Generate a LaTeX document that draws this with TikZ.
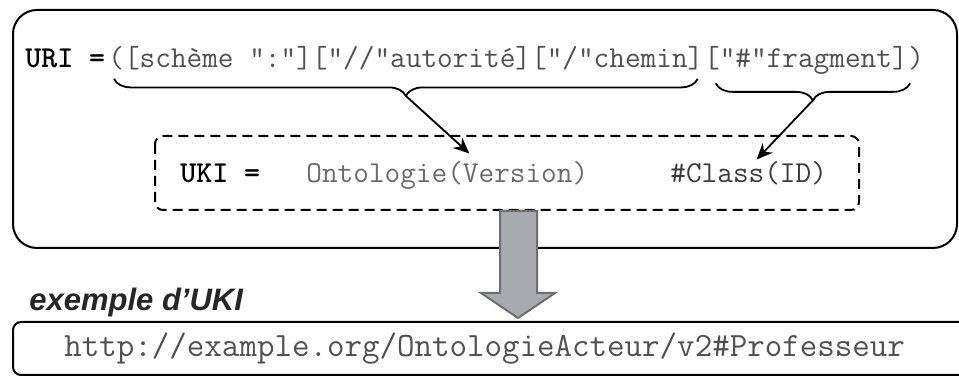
\documentclass[tikz,border=0pt]{standalone}
\usepackage{fontspec}
\setsansfont{Liberation Sans}
\usetikzlibrary{arrows.meta,calc,decorations.pathreplacing}
\definecolor{uri-gray}{HTML}{505050}
\definecolor{onto-gray}{HTML}{6A6A6A}
\definecolor{class-gray}{HTML}{3C3C3C}
\definecolor{block-gray}{HTML}{A7ABAF}
\definecolor{block-edge}{HTML}{6E6E6E}

\begin{document}
\begin{tikzpicture}[x=0.5pt, y=-0.5pt,
    code/.style={inner sep=0pt, anchor=base west, text=uri-gray,
      font=\fontsize{15.2}{18}\selectfont\ttfamily},
    ubrace/.style={decorate, decoration={brace, amplitude=8.5pt}, line width=0.9pt},
    >={Stealth[length=8pt, width=7pt]}]
  \useasboundingbox (0,0) rectangle (959,378);

  % frames
  \draw[line width=1pt, rounded corners=12pt] (13,10) rectangle (957,248);
  \draw[line width=1pt, dash pattern=on 5pt off 3pt, rounded corners=4pt] (155,136) rectangle (859,210);
  \draw[line width=1pt, rounded corners=4pt] (13,322) rectangle (975,375);

  % URI line
  \node[code, text=black, font=\fontsize{15.2}{18}\selectfont\ttfamily\bfseries] (urilbl) at (25,68) {URI =};
  \node[code] (p1) at (108,68) {([schème ":"]["//"autorité]["/"chemin]};
  \node[code] (p2) at (p1.base east) {["\#"fragment]};
  \node[code] (p3) at (p2.base east) {)};

  % UKI line
  \node[code, text=black, font=\fontsize{15.2}{18}\selectfont\ttfamily\bfseries] (ukilbl) at (180,183) {UKI =};
  \node[code, text=onto-gray] (onto) at (306,183) {Ontologie(Version)};
  \node[code, text=class-gray] (cls) at (670,183) {\#Class(ID)};

  % braces
  \coordinate (b1r) at ([xshift=-3pt, yshift=-4pt]p1.south east);
  \coordinate (b1l) at ([xshift=3pt, yshift=-4pt]p1.south west);
  \coordinate (b2r) at ([xshift=1pt, yshift=-4pt]p2.south east);
  \coordinate (b2l) at ([xshift=6pt, yshift=-4pt]p2.south west);
  \draw[ubrace] (b1r) -- (b1l);
  \draw[ubrace] (b2r) -- (b2l);
  \coordinate (t1) at ($(b1l)!0.5!(b1r)+(0,-8.5pt)$);
  \coordinate (t2) at ($(b2l)!0.5!(b2r)+(0,-8.5pt)$);

  \draw[->, line width=0.9pt] (t1) -- ([xshift=11pt, yshift=4pt]onto.north);
  \draw[->, line width=0.9pt] (t2) -- ([xshift=4pt, yshift=1pt]cls.north);

  % example
  \node[inner sep=0pt, anchor=base west, text=black!85,
    font=\fontsize{15.5}{18}\selectfont\sffamily\bfseries\itshape] (exlbl) at (29,311) {exemple d'UKI};
  \node[code, text=uri-gray, font=\fontsize{17}{20}\selectfont\ttfamily] (exuki) at (64,357)
    {http://example.org/OntologieActeur/v2\#Professeur};

  \draw[fill=block-gray, draw=block-edge, line width=1pt]
    (500,211) -- (537,211) -- (537,293) -- (555,293) -- (518,318) -- (481,293) -- (500,293) -- cycle;
\end{tikzpicture}
\end{document}
